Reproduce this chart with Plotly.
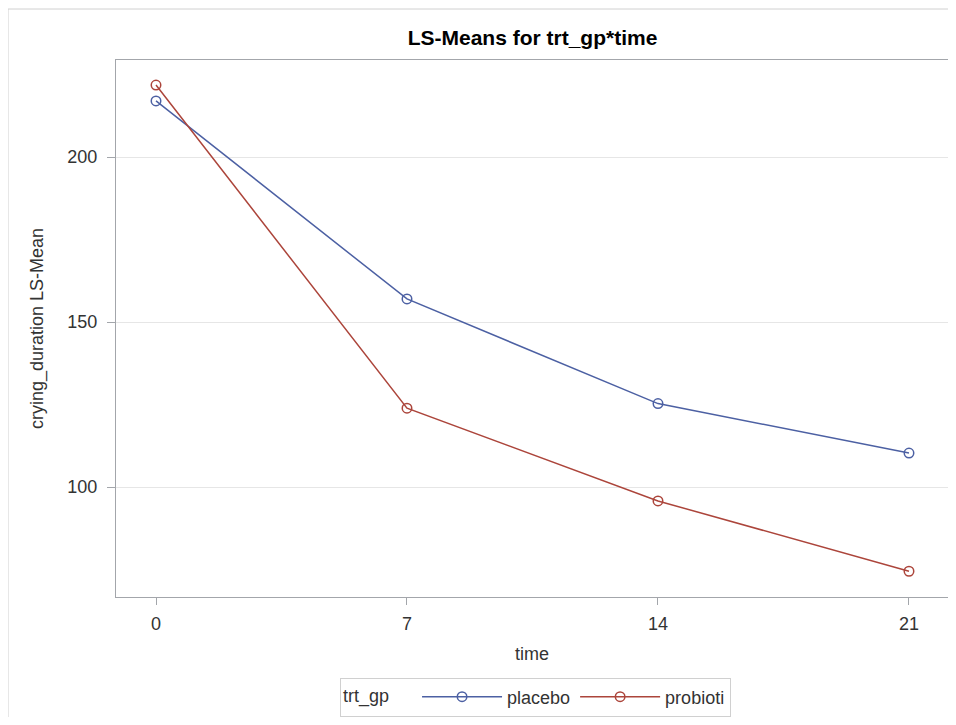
import plotly.graph_objects as go

time = [0, 7, 14, 21]
placebo = [217.0, 157.0, 125.3, 110.3]
probioti = [221.8, 123.9, 95.8, 74.5]
x_ticks = [0, 7, 14, 21]
y_ticks = [100, 150, 200]

BLUE = "#4c60a3"
RED = "#ac453b"
FONT = "Liberation Sans, Arial, sans-serif"
TXT = "#333333"

fig = go.Figure()
for name, vals, col in [("placebo", placebo, BLUE), ("probioti", probioti, RED)]:
    fig.add_trace(go.Scatter(x=time, y=vals, name=name, mode="lines+markers",
                             line=dict(color=col, width=1.5),
                             marker=dict(symbol="circle-open", size=9.5, color=col,
                                         line=dict(width=1.5, color=col))))

# figure sits 8px inside the page (body margin)
W, H = 940, 709
L, R, T, B = 108, 0, 52, 120
pw, ph = W - L - R, H - T - B
fx = (0.0 - L) / pw
fy = (H - B - 1) / ph

fig.update_layout(
    width=W, height=H,
    margin=dict(l=L, r=R, t=T, b=B, pad=0, autoexpand=False),
    paper_bgcolor="white", plot_bgcolor="white",
    font=dict(family=FONT, size=18, color=TXT),
    title=dict(text="<b>LS-Means for trt_gp*time</b>", x=524.5 / W, xanchor="center",
               y=1 - 30 / H, yanchor="middle", font=dict(size=21, color="black")),
    xaxis=dict(range=[-1.1155, 22.088], tickvals=x_ticks, showgrid=False, zeroline=False,
               showline=True, mirror=True, linecolor="#a3a6ab", linewidth=1,
               ticks="outside", ticklen=7, tickcolor="#a3a6ab",
               tickfont=dict(size=18, color=TXT), ticklabelstandoff=3,
               title=dict(text="time", font=dict(size=18, color=TXT), standoff=14)),
    yaxis=dict(range=[66.7, 229.4], tickvals=y_ticks, showgrid=True, gridcolor="#e6e6e6",
               zeroline=False, showline=True, mirror=True, linecolor="#a3a6ab", linewidth=1,
               ticks="outside", ticklen=8, tickcolor="#a3a6ab",
               tickfont=dict(size=18, color=TXT), ticklabelstandoff=6,
               title=dict(text="crying_duration LS-Mean", font=dict(size=18, color=TXT), standoff=19)),
    legend=dict(orientation="h", x=(527.5 - L) / pw, xanchor="center",
                y=(H - B - 689) / ph, yanchor="middle",
                title=dict(text="trt_gp\u00a0\u00a0\u00a0\u00a0", side="left", font=dict(size=18, color=TXT)),
                bordercolor="#d0d0d0", borderwidth=1, font=dict(size=18, color=TXT),
                bgcolor="white", itemwidth=80, tracegroupgap=0),
    showlegend=True,
    shapes=[
        dict(type="line", xref="paper", yref="paper", x0=fx, x1=fx, y0=-0.5, y1=fy,
             line=dict(color="#d0d0d0", width=1)),
        dict(type="line", xref="paper", yref="paper", x0=fx, x1=1.2, y0=fy, y1=fy,
             line=dict(color="#d0d0d0", width=1)),
    ],
)

fig.write_html("out.html")
